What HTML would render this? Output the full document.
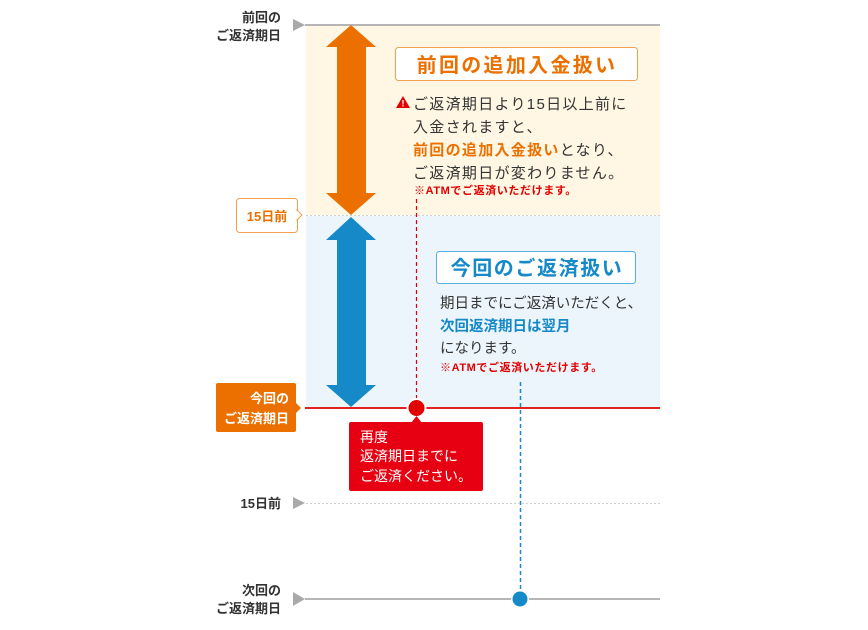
<!DOCTYPE html>
<html><head><meta charset="utf-8"><style>
html,body{margin:0;padding:0;background:#fff}
svg{display:block}
text{font-family:"Liberation Sans","Noto Sans CJK JP",sans-serif}
</style></head><body>
<svg width="868" height="630" viewBox="0 0 868 630" xmlns="http://www.w3.org/2000/svg">
<rect x="306" y="26" width="354" height="189" fill="#fff6e3"/>
<rect x="306" y="216" width="354" height="192" fill="#ebf5fb"/>
<line x1="305" y1="25" x2="660" y2="25" stroke="#b5b5b5" stroke-width="2"/>
<polygon points="293,19 305,25 293,31" fill="#a9a9a9"/>
<line x1="306" y1="215.5" x2="660" y2="215.5" stroke="#cfcfcf" stroke-dasharray="2,2"/>
<polygon points="351,25 376,47 366,47 366,193 376,193 351,215 326,193 337,193 337,47 326,47" fill="#ec7000"/>
<polygon points="351,217 376,240 366,240 366,385 376,385 351,407 326,385 337,385 337,240 326,240" fill="#1689c8"/>
<rect x="395.5" y="47.5" width="242" height="33" rx="3" fill="#fff" stroke="#f0a050"/>
<text x="517" y="72" text-anchor="middle" font-size="20" font-weight="bold" fill="#ec7000" letter-spacing="2.3">前回の追加入金扱い</text>
<polygon points="403,96 410,108 396,108" fill="#e00000"/>
<text x="403" y="106.5" text-anchor="middle" font-size="9" font-weight="bold" fill="#fff">!</text>
<g font-size="15" fill="#333" letter-spacing="1.3">
<text x="413" y="109">ご返済期日より15日以上前に</text>
<text x="413" y="132">入金されますと、</text>
<text x="413" y="155"><tspan fill="#ec7000" font-weight="bold">前回の追加入金扱い</tspan>となり、</text>
<text x="413" y="178">ご返済期日が変わりません。</text>
</g>
<text x="414" y="194" font-size="11" font-weight="bold" fill="#e00000" letter-spacing="0.6">※ATMでご返済いただけます。</text>
<line x1="416.5" y1="199" x2="416.5" y2="400" stroke="#e00000" stroke-width="1.2" stroke-dasharray="4,3"/>
<rect x="236.5" y="198.5" width="61" height="34" rx="3" fill="#fff" stroke="#f0a050"/>
<polygon points="297,210 302,215 297,220" fill="#fff" stroke="#f0a050"/>
<rect x="295" y="211" width="2.5" height="8" fill="#fff"/>
<text x="267" y="221" text-anchor="middle" font-size="13" font-weight="bold" fill="#ec7000">15日前</text>
<rect x="436.5" y="251.5" width="199" height="32" rx="3" fill="#fff" stroke="#5aaee0"/>
<text x="537" y="275" text-anchor="middle" font-size="20" font-weight="bold" fill="#1689c8" letter-spacing="1.6">今回のご返済扱い</text>
<g font-size="14.5" fill="#333" letter-spacing="0">
<text x="440" y="308">期日までにご返済いただくと、</text>
<text x="440" y="331" fill="#1689c8" font-weight="bold">次回返済期日は翌月</text>
<text x="440" y="353">になります。</text>
</g>
<text x="440" y="371" font-size="11" font-weight="bold" fill="#e00000" letter-spacing="0.6">※ATMでご返済いただけます。</text>
<line x1="520.5" y1="382" x2="520.5" y2="598" stroke="#1689c8" stroke-width="1.5" stroke-dasharray="4,3"/>
<line x1="305" y1="408" x2="660" y2="408" stroke="#e42020" stroke-width="2"/>
<circle cx="416.5" cy="408" r="10" fill="#fff"/>
<circle cx="416.5" cy="408" r="8" fill="#e00000"/>
<rect x="216" y="383" width="80" height="49" rx="2" fill="#ec7000"/>
<polygon points="296,403 301,408 296,413" fill="#ec7000"/>
<text x="289" y="403" text-anchor="end" font-size="13" font-weight="bold" fill="#fff">今回の</text>
<text x="289" y="423" text-anchor="end" font-size="13" font-weight="bold" fill="#fff">ご返済期日</text>
<rect x="349" y="422" width="134" height="69" rx="2" fill="#e60012"/>
<polygon points="411,423 416.5,416 422,423" fill="#e60012"/>
<g font-size="14" fill="#fff">
<text x="360" y="442">再度</text>
<text x="360" y="461">返済期日までに</text>
<text x="360" y="481">ご返済ください。</text>
</g>
<text x="281" y="508" text-anchor="end" font-size="13" font-weight="bold" fill="#333">15日前</text>
<polygon points="293,497 305,503 293,509" fill="#a9a9a9"/>
<line x1="306" y1="503.5" x2="660" y2="503.5" stroke="#cfcfcf" stroke-dasharray="2,2"/>
<line x1="305" y1="599" x2="660" y2="599" stroke="#b5b5b5" stroke-width="2"/>
<polygon points="293,592 305,599 293,606" fill="#a9a9a9"/>
<circle cx="520" cy="599" r="9" fill="#fff"/>
<circle cx="520" cy="599" r="7.5" fill="#1689c8"/>
<g font-size="13" font-weight="bold" fill="#333" text-anchor="end">
<text x="281" y="22">前回の</text>
<text x="281" y="40">ご返済期日</text>
<text x="281" y="595">次回の</text>
<text x="281" y="613">ご返済期日</text>
</g>
</svg>
</body></html>
